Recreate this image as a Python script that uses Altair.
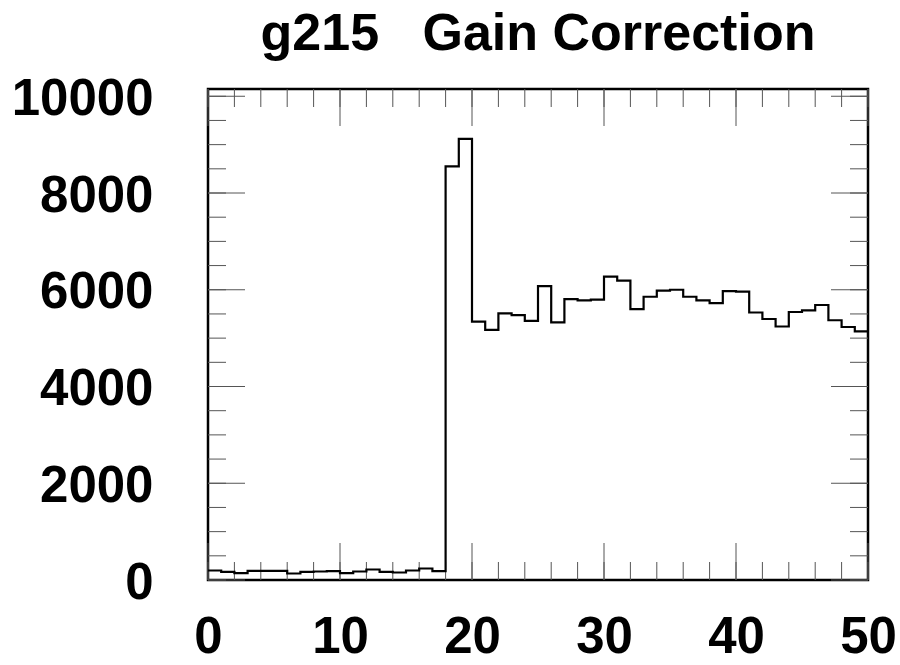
import altair as alt
import pandas as pd

# bin lower edges and contents
bin_edges = list(range(0, 50))
counts = [196, 169, 141, 190, 190, 190, 134, 169, 176, 183,
          141, 176, 217, 169, 155, 196, 238, 183, 8550, 9120,
          5340, 5170, 5510, 5475, 5355, 6075, 5325, 5805, 5780, 5795,
          6270, 6190, 5600, 5855, 5980, 6000, 5855, 5780, 5725, 5970,
          5960, 5530, 5395, 5240, 5540, 5575, 5685, 5370, 5230, 5140]

x_major = [0, 10, 20, 30, 40, 50]
x_minor = list(range(0, 51, 2))
y_major = [0, 2000, 4000, 6000, 8000, 10000]
y_minor = list(range(0, 10001, 500))

TITLE = "g215\u00a0\u00a0\u00a0Gain Correction"

X_MAX = 50
Y_MAX = 10150
W, H = 660, 491

hist = pd.DataFrame({"x": bin_edges + [X_MAX], "y": counts + [counts[-1]]})

FONT = "Liberation Sans"

xscale = alt.Scale(domain=[0, X_MAX], nice=False, zero=False)
yscale = alt.Scale(domain=[0, Y_MAX], nice=False)

xaxis = alt.Axis(values=x_major, format="d", title=None, grid=False, ticks=False, tickSize=0,
                 domain=False, labelFont=FONT, labelFontWeight="bold",
                 labelFontSize=51, labelColor="black", labelPadding=72,
                 labelBaseline="alphabetic", labelFlush=False, labelOverlap=False)
yaxis = alt.Axis(values=y_major, format="d", title=None, grid=False, ticks=False, tickSize=0,
                 domain=False, labelFont=FONT, labelFontWeight="bold",
                 labelFontSize=51, labelColor="black", labelPadding=55,
                 labelOffset=3, labelFlush=False, labelOverlap=False)

line = alt.Chart(hist).mark_line(interpolate="step-after", color="black", strokeWidth=2.2).encode(
    x=alt.X("x:Q", scale=xscale, axis=xaxis),
    y=alt.Y("y:Q", scale=yscale, axis=yaxis),
)

def xticks(vals, length, top):
    df = pd.DataFrame({"x": vals})
    if top:
        yv, y2v = 0, length
    else:
        yv, y2v = H, H - length
    return alt.Chart(df).mark_rule(color="#555", strokeWidth=1).encode(
        x=alt.X("x:Q", scale=xscale, axis=xaxis),
        y=alt.value(yv), y2=alt.value(y2v))

def yticks(vals, length, right):
    df = pd.DataFrame({"y": vals})
    if right:
        xv, x2v = W, W - length
    else:
        xv, x2v = 0, length
    return alt.Chart(df).mark_rule(color="#555", strokeWidth=1).encode(
        y=alt.Y("y:Q", scale=yscale, axis=yaxis),
        x=alt.value(xv), x2=alt.value(x2v))

layers = [
    xticks(x_minor, 18, False), xticks(x_major, 37, False),
    xticks(x_minor, 18, True), xticks(x_major, 37, True),
    yticks(y_minor, 18, False), yticks(y_major, 37, False),
    yticks(y_minor, 18, True), yticks(y_major, 37, True),
    line,
]

chart = alt.layer(*layers).properties(
    width=W, height=H,
    background="white",
    title=alt.TitleParams(TITLE, font=FONT, fontWeight="bold",
                          fontSize=52, color="black", anchor="middle",
                          baseline="alphabetic", offset=23, dy=52),
    autosize=alt.AutoSizeParams(type="none"),
    padding={"left": 208, "top": 89, "right": 32, "bottom": 85},
).configure_view(stroke="black", strokeWidth=2.5)

chart.save("out.html", embed_options={"renderer": "svg", "actions": False})
